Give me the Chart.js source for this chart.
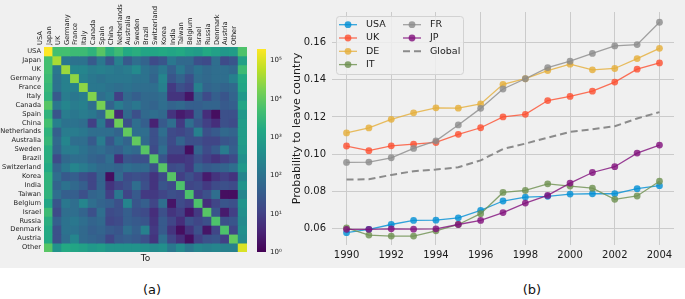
<!DOCTYPE html>
<html>
<head>
<meta charset="utf-8">
<script src="https://cdn.jsdelivr.net/npm/chart.js@4.4.1/dist/chart.umd.min.js"></script>
<style>
  body { margin: 0; width: 685px; height: 299px; background: #fff; position: relative; overflow: hidden; font-family: "DejaVu Sans", sans-serif; }
  #bg { position: absolute; left: 0; top: 0; width: 685px; height: 268px; background: #f0f0f0; }
  canvas { position: absolute; top: 0; }
  .cap { position: absolute; top: 282px; width: 40px; margin-left: -20px; text-align: center; font-size: 13px; color: #111; }
</style>
</head>
<body>
<div id="bg"></div>
<canvas id="heat" width="247" height="268" style="left:0"></canvas>
<canvas id="cbar" width="43" height="268" style="left:257px"></canvas>
<canvas id="lines" width="407" height="268" style="left:278px"></canvas>
<div class="cap" style="left:152px">(a)</div>
<div class="cap" style="left:532px">(b)</div>
<script>
// ---- panel (a): flows between countries, log10 of counts (row = from, col = to)
const countries = ['USA','Japan','UK','Germany','France','Italy','Canada','Spain','China','Netherlands','Australia','Sweden','Brazil','Switzerland','Korea','India','Taiwan','Belgium','Israel','Russia','Denmark','Austria','Other'];
const flowLog10 = [
  [5.3,3.7,3.7,3.6,3.6,3.4,3.9,3.3,3.6,3.2,3.3,3.1,3.1,3.2,3.1,3.2,3.0,2.9,3.2,3.0,2.8,2.9,3.8],
  [3.7,4.6,2.1,2.0,2.0,1.5,2.1,1.4,2.3,1.5,1.9,1.7,1.2,1.4,2.1,1.8,1.8,1.3,1.2,1.9,1.2,1.4,3.0],
  [3.7,2.1,4.5,2.4,2.4,2.2,2.3,2.2,2.1,2.2,2.5,2.0,1.8,2.1,1.6,2.1,1.7,2.0,1.8,1.9,1.9,1.8,3.6],
  [3.6,2.0,2.3,4.4,2.3,2.1,2.0,2.1,2.1,2.1,2.0,2.0,1.7,2.4,1.4,1.7,1.3,1.9,1.8,1.9,1.9,2.3,3.2],
  [3.5,2.0,2.3,2.3,4.4,2.1,2.1,2.0,1.9,2.0,1.9,1.9,1.9,2.3,0.9,1.3,1.1,2.3,1.7,1.8,1.7,1.8,3.1],
  [3.4,1.5,2.2,2.1,2.2,4.3,1.9,2.1,1.0,1.8,1.6,1.8,1.8,1.9,0.8,0.8,0.3,1.7,1.2,1.6,1.4,1.7,2.8],
  [3.9,2.1,2.4,2.2,2.3,1.9,4.2,1.7,2.2,1.9,2.1,1.8,1.7,1.9,1.7,1.8,1.6,1.6,1.7,1.7,1.5,1.6,3.1],
  [3.4,1.4,2.2,2.1,2.2,2.1,1.8,4.2,0.6,1.8,1.3,1.8,1.9,1.8,0.8,0.4,0.6,1.6,0.7,0.2,1.3,1.3,2.8],
  [3.7,2.3,2.0,2.0,1.9,1.0,2.1,1.0,4.1,1.3,1.9,1.6,0.5,1.5,1.9,0.9,1.9,1.4,1.0,0.7,1.3,1.2,2.9],
  [3.4,1.6,2.2,2.2,2.1,1.9,1.9,1.9,1.7,4.0,1.9,1.9,1.3,1.9,1.2,1.1,1.3,2.3,1.3,1.5,1.8,1.7,2.9],
  [3.5,1.8,2.4,1.9,1.9,1.5,2.2,1.4,2.0,1.7,4.0,1.8,1.3,1.7,1.2,1.7,1.3,1.3,1.1,1.1,1.4,1.5,2.9],
  [3.3,1.7,2.2,2.2,2.0,1.8,1.9,1.7,1.6,1.9,1.8,3.9,1.2,1.9,1.1,1.1,0.2,1.7,1.2,1.5,2.2,1.6,2.8],
  [3.3,1.2,1.8,1.9,1.9,1.7,1.6,1.9,0.7,1.4,1.3,1.3,3.9,1.4,0.8,0.8,0.9,1.3,1.0,0.8,1.0,1.2,2.6],
  [3.2,1.7,2.1,2.4,2.2,2.0,1.8,1.8,1.7,1.9,1.8,1.8,1.3,3.9,1.2,1.3,0.9,1.7,1.5,1.6,1.7,1.9,2.8],
  [3.4,1.9,1.5,1.6,1.3,1.1,1.7,0.2,1.8,1.2,1.3,1.2,0.8,1.2,3.9,1.0,1.3,1.0,0.4,0.8,1.0,0.8,2.4],
  [3.4,1.7,2.0,1.8,1.6,1.1,1.7,0.8,1.1,1.3,1.9,1.3,0.8,1.4,1.2,3.8,1.1,1.2,0.9,1.2,1.3,1.2,2.7],
  [3.4,1.9,1.6,1.6,1.3,1.7,1.8,1.0,2.1,1.1,1.5,0.9,0.9,1.1,1.3,1.2,3.8,1.0,1.3,1.9,0.2,0.2,2.4],
  [3.1,1.4,2.1,1.9,2.4,1.9,1.7,1.6,1.3,2.4,1.4,1.6,1.1,1.9,0.3,1.2,1.0,3.8,0.7,1.1,1.4,1.3,2.7],
  [3.6,1.2,1.9,1.9,1.7,1.3,1.9,1.2,1.3,1.6,1.3,1.2,0.7,1.3,0.8,1.0,0.3,0.9,3.9,1.4,0.4,1.0,2.6],
  [3.3,1.6,2.0,2.1,1.9,1.7,1.8,1.1,1.2,1.6,1.5,1.4,0.8,1.5,1.1,0.7,1.3,1.1,1.3,3.8,1.3,1.4,2.5],
  [3.2,1.3,2.0,2.0,1.8,1.6,1.7,1.5,1.4,1.9,1.6,2.3,0.9,1.5,0.8,0.2,0.8,1.3,0.3,1.1,3.8,1.1,2.6],
  [3.2,1.3,1.9,2.4,1.8,1.7,1.6,1.1,1.5,1.6,1.5,1.3,0.8,1.9,1.1,0.7,0.2,1.0,1.3,1.4,1.0,4.0,2.5],
  [3.9,2.7,3.2,3.1,3.0,2.8,2.9,2.7,2.7,2.7,2.7,2.6,2.5,2.6,2.1,2.5,2.1,2.4,2.3,2.4,2.3,2.3,5.0]
];
const cbarMaxLog = 5.3;
const cbarTicks = [1, 10, 100, 1000, 10000, 100000];
const cbarTickLabels = ['10⁰','10¹','10²','10³','10⁴','10⁵'];

// ---- panel (b): probability to leave country
const years = [1990,1991,1992,1993,1994,1995,1996,1997,1998,1999,2000,2001,2002,2003,2004];
const usa = [0.0579,0.0597,0.0623,0.0645,0.0646,0.0659,0.0699,0.0749,0.0770,0.0774,0.0786,0.0788,0.0788,0.0815,0.0831];
const uk  = [0.1044,0.1019,0.1045,0.1054,0.1063,0.1107,0.1142,0.1200,0.1214,0.1288,0.1310,0.1338,0.1387,0.1456,0.1490];
const de  = [0.1114,0.1141,0.1187,0.1222,0.1249,0.1247,0.1270,0.1375,0.1405,0.1449,0.1483,0.1453,0.1460,0.1513,0.1568];
const it  = [0.0605,0.0566,0.0561,0.0561,0.0589,0.0623,0.0681,0.0795,0.0806,0.0841,0.0829,0.0818,0.0758,0.0776,0.0855];
const fr  = [0.0956,0.0958,0.0981,0.1031,0.1072,0.1157,0.1246,0.1350,0.1405,0.1465,0.1499,0.1541,0.1581,0.1588,0.1708];
const jp  = [0.0597,0.0597,0.0600,0.0598,0.0600,0.0623,0.0645,0.0687,0.0738,0.0779,0.0845,0.0902,0.0933,0.1006,0.1049];
const globalAvg = [0.0864,0.0866,0.0889,0.0909,0.0918,0.0930,0.0967,0.1028,0.1057,0.1089,0.1120,0.1134,0.1150,0.1192,0.1226];
const yearTicks = [1990,1992,1994,1996,1998,2000,2002,2004];
const probTicks = [0.06,0.08,0.10,0.12,0.14,0.16];

Chart.defaults.font.family = 'DejaVu Sans';
Chart.defaults.color = '#1a1a1a';
Chart.defaults.animation = false;
Chart.defaults.plugins.legend.display = false;
Chart.defaults.plugins.tooltip.enabled = false;

const VIRIDIS = [[68,1,84],[72,36,117],[65,68,135],[53,95,141],[42,120,142],[33,145,140],[34,168,132],[68,191,112],[122,209,81],[189,223,38],[253,231,37]];
function viridis(t) {
  t = Math.max(0, Math.min(1, t));
  const s = t * 10, i = Math.min(9, Math.floor(s)), f = s - i;
  const a = VIRIDIS[i], b = VIRIDIS[i + 1];
  const c = a.map((v, k) => Math.round(v + (b[k] - v) * f));
  return 'rgb(' + c.join(',') + ')';
}

// heatmap: one stacked bar per "to" column, one dataset per "from" row
new Chart(document.getElementById('heat'), {
  type: 'bar',
  data: {
    labels: countries,
    datasets: countries.map((from, r) => ({
      label: from,
      data: countries.map(() => 1),
      backgroundColor: flowLog10[r].map(v => viridis(v / cbarMaxLog)),
      borderWidth: 0,
      barPercentage: 1,
      categoryPercentage: 1,
      inflateAmount: 0.4
    }))
  },
  options: {
    responsive: false,
    layout: { padding: 0 },
    scales: {
      x: {
        position: 'top', stacked: true,
        grid: { display: false, drawTicks: false }, border: { display: false },
        ticks: { autoSkip: false, minRotation: 90, maxRotation: 90, padding: 2, font: { size: 6.7 } },
        afterFit: s => { s.height = 47; }
      },
      x2: {
        type: 'category', position: 'bottom',
        grid: { display: false, drawTicks: false }, border: { display: false },
        ticks: { display: false },
        title: { display: true, text: 'To', font: { size: 9 }, padding: { top: 0, bottom: 4 } },
        afterFit: s => { s.height = 16; }
      },
      y: {
        type: 'linear', stacked: true, reverse: true, min: 0, max: countries.length,
        grid: { display: false, drawTicks: false }, border: { display: false },
        afterBuildTicks: s => { s.ticks = countries.map((c, i) => ({ value: i + 0.5 })); },
        ticks: { autoSkip: false, padding: 3, font: { size: 6.7 }, callback: (v, i) => countries[i] },
        afterFit: s => { s.width = 44; }
      }
    }
  }
});

// colorbar
new Chart(document.getElementById('cbar'), {
  type: 'bar',
  data: {
    labels: [''],
    datasets: [{
      data: [[1, Math.pow(10, cbarMaxLog)]],
      borderWidth: 0, barPercentage: 1, categoryPercentage: 1,
      backgroundColor: c => {
        const area = c.chart.chartArea;
        if (!area) return '#21918c';
        const g = c.chart.ctx.createLinearGradient(0, area.bottom, 0, area.top);
        VIRIDIS.forEach((v, i) => g.addColorStop(i / 10, 'rgb(' + v.join(',') + ')'));
        return g;
      }
    }]
  },
  options: {
    responsive: false,
    layout: { padding: { top: 49, bottom: 16, left: 0, right: 0 } },
    scales: {
      x: { display: false },
      y: {
        type: 'logarithmic', position: 'right', min: 1, max: Math.pow(10, cbarMaxLog),
        grid: { display: false, drawTicks: false }, border: { display: false },
        afterBuildTicks: s => { s.ticks = cbarTicks.map(v => ({ value: v })); },
        ticks: { autoSkip: false, padding: 4, font: { size: 7 }, callback: (v, i) => cbarTickLabels[i] },
        afterFit: s => { s.width = 34; }
      }
    }
  }
});

// line chart with two-column legend
const colLegend = {
  id: 'colLegend',
  afterDraw(chart) {
    const { ctx, chartArea } = chart;
    const x0 = chartArea.left + 4, y0 = chartArea.top + 4, w = 127, h = 58;
    ctx.save();
    ctx.beginPath();
    ctx.roundRect(x0 + 0.5, y0 + 0.5, w, h, 3);
    ctx.fillStyle = 'rgba(240,240,240,0.85)';
    ctx.fill();
    ctx.strokeStyle = '#d2d2d2';
    ctx.lineWidth = 1;
    ctx.stroke();
    ctx.font = '9.5px "DejaVu Sans"';
    ctx.textBaseline = 'middle';
    chart.data.datasets.forEach((ds, i) => {
      const col = i < 4 ? 0 : 1, row = i < 4 ? i : i - 4;
      const lx = x0 + 3 + col * 64, ly = y0 + 8.7 + row * 13.3;
      ctx.beginPath();
      ctx.setLineDash(ds.borderDash || []);
      ctx.strokeStyle = ds.borderColor;
      ctx.lineWidth = ds.borderWidth;
      ctx.moveTo(lx, ly); ctx.lineTo(lx + 18, ly);
      ctx.stroke();
      ctx.setLineDash([]);
      if (ds.pointRadius > 0) {
        ctx.beginPath();
        ctx.arc(lx + 9, ly, ds.pointRadius, 0, Math.PI * 2);
        ctx.fillStyle = ds.pointBackgroundColor;
        ctx.fill();
      }
      ctx.fillStyle = '#1a1a1a';
      ctx.fillText(ds.label, lx + 27, ly);
    });
    ctx.restore();
  }
};

function series(label, values, color, order) {
  return {
    label, order,
    data: years.map((y, i) => ({ x: y, y: values[i] })),
    borderColor: color, backgroundColor: color, pointBackgroundColor: color,
    borderWidth: 1.3, pointRadius: 3.4, pointBorderWidth: 0, tension: 0
  };
}

new Chart(document.getElementById('lines'), {
  type: 'line',
  data: {
    datasets: [
      series('USA', usa, 'rgba(0,143,213,0.8)', 6),
      series('UK', uk, 'rgba(252,79,48,0.8)', 5),
      series('DE', de, 'rgba(229,174,56,0.8)', 4),
      series('IT', it, 'rgba(109,144,79,0.8)', 3),
      series('FR', fr, 'rgba(139,139,139,0.8)', 2),
      series('JP', jp, 'rgba(129,15,124,0.8)', 1),
      {
        label: 'Global', order: 0,
        data: years.map((y, i) => ({ x: y, y: globalAvg[i] })),
        borderColor: '#8b8b8b', borderWidth: 2, borderDash: [7, 4], pointRadius: 0, tension: 0
      }
    ]
  },
  options: {
    responsive: false,
    layout: { padding: { top: 10, right: 11, left: 0, bottom: 0 } },
    scales: {
      x: {
        type: 'linear', min: 1989.35, max: 2004.65,
        grid: { color: '#cbcbcb', lineWidth: 1, drawTicks: false }, border: { display: false },
        afterBuildTicks: s => { s.ticks = yearTicks.map(v => ({ value: v })); },
        ticks: { padding: 4, font: { size: 10 }, callback: v => String(v) },
        afterFit: s => { s.height = 23; }
      },
      y: {
        type: 'linear', min: 0.0513, max: 0.1763,
        grid: { color: '#cbcbcb', lineWidth: 1, drawTicks: false }, border: { display: false },
        afterBuildTicks: s => { s.ticks = probTicks.map(v => ({ value: v })); },
        ticks: { padding: 6, font: { size: 10 }, callback: v => v.toFixed(2) },
        title: { display: true, text: 'Probability to leave country', font: { size: 11 }, padding: { top: 12.5, bottom: 0 } },
        afterFit: s => { s.width = 54; }
      }
    }
  },
  plugins: [colLegend]
});
</script>
</body>
</html>
